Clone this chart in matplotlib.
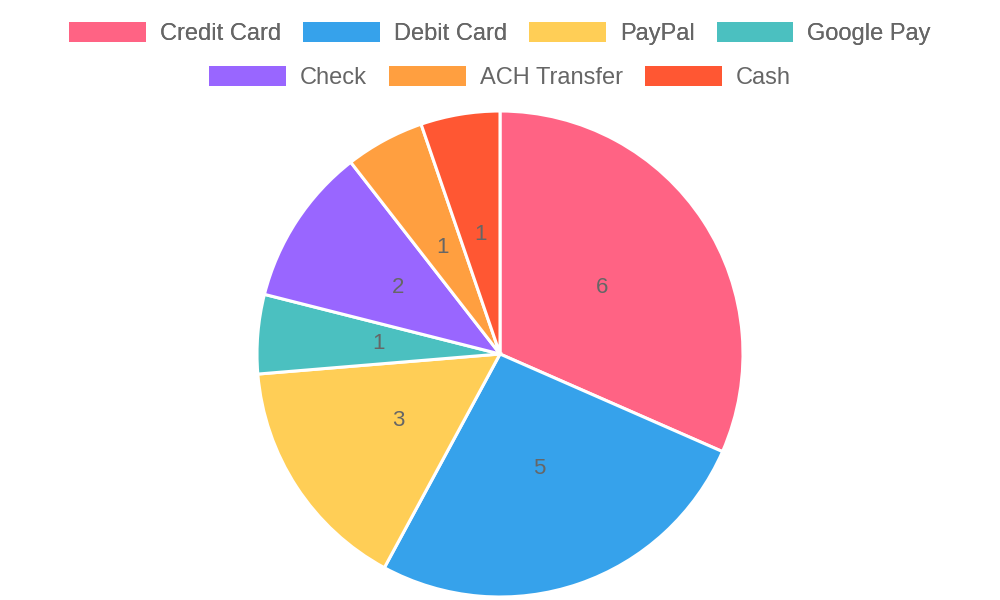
import matplotlib
matplotlib.use("Agg")
import matplotlib.pyplot as plt
from matplotlib.patches import Patch

categories = ["Credit Card", "Debit Card", "PayPal", "Google Pay", "Check", "ACH Transfer", "Cash"]
values = [6, 5, 3, 1, 2, 1, 1]
colors = ["#FF6384", "#36A2EB", "#FFCE56", "#4BC0C0", "#9966FF", "#FF9F40", "#FF5733"]

plt.rcParams['font.family'] = ['Liberation Sans', 'DejaVu Sans']

W, H = 1000, 600
fig = plt.figure(figsize=(10, 6), dpi=100)
cx, cy, r = 500, 354, 243
ax = fig.add_axes([(cx - r) / W, (H - cy - r) / H, 2 * r / W, 2 * r / H])
wedges, texts = ax.pie(values, colors=colors, startangle=90, counterclock=False,
                       labels=[str(v) for v in values], labeldistance=0.5,
                       wedgeprops=dict(edgecolor='white', linewidth=2.2),
                       textprops=dict(color='#666666', fontsize=16),
                       radius=1)
for t in texts:
    t.set_ha('center'); t.set_va('center')
ax.set_xlim(-1.0, 1.0)
ax.set_ylim(-1.0, 1.0)
ax.set_aspect('equal')
ax.axis('off')

def make_legend(idx, y):
    handles = [Patch(facecolor=colors[i], edgecolor='white', linewidth=0) for i in idx]
    leg = fig.legend(handles, [categories[i] for i in idx], loc='center',
                     bbox_to_anchor=(0.5, 1 - y / H), ncol=len(idx), frameon=False,
                     fontsize=17, handlelength=3.24, handleheight=0.95,
                     handletextpad=0.59, columnspacing=0.95, labelcolor='#666666')
    return leg

l1 = make_legend([0, 1, 2, 3], 33.5)
fig.add_artist(l1)
make_legend([4, 5, 6], 77.5)

fig.savefig("out.png", dpi=100)
